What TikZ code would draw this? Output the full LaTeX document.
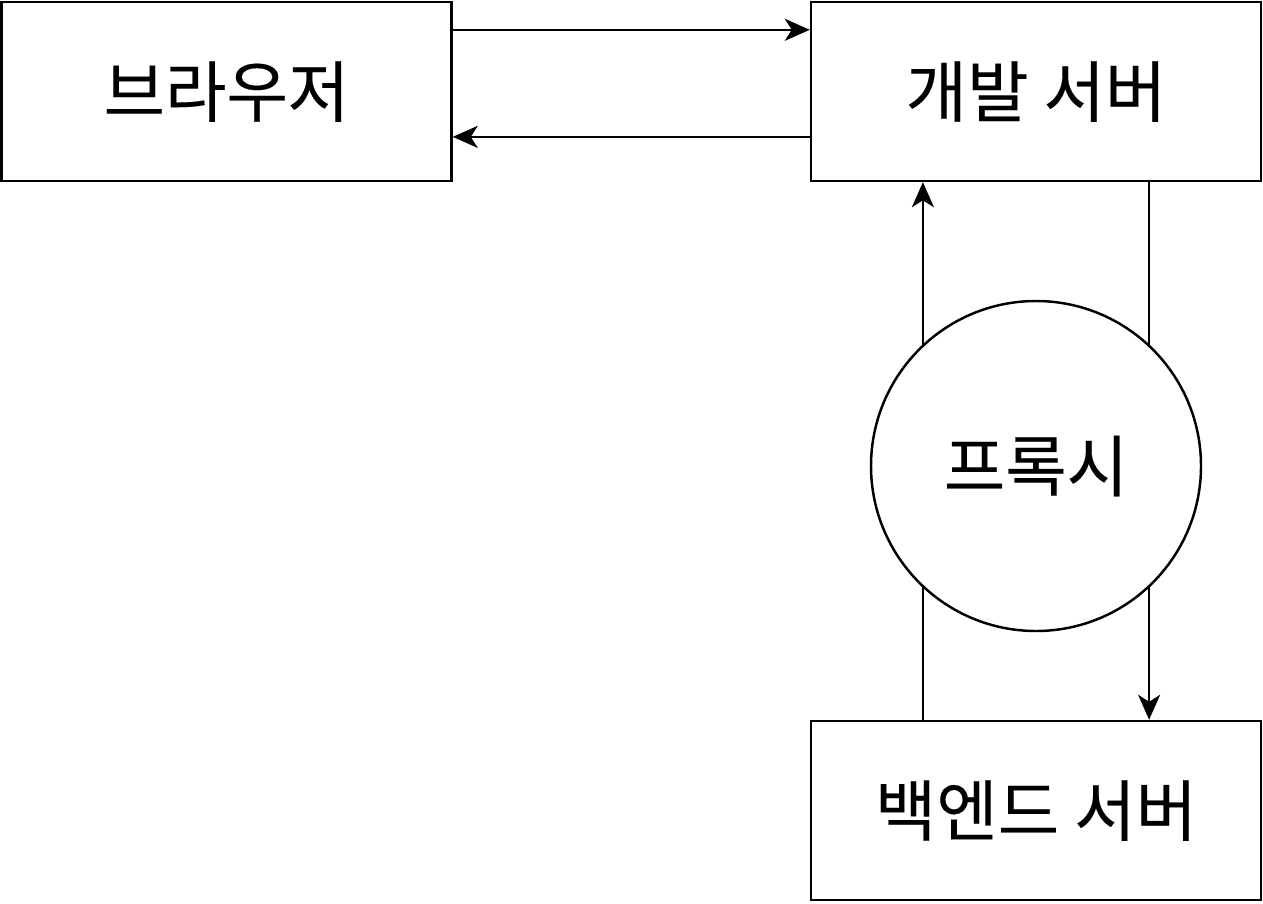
\documentclass[tikz,border=0pt]{standalone}
\usepackage{fontspec}
\newfontfamily\krfont[FakeBold=0.2]{Noto Sans CJK KR}
\usetikzlibrary{arrows.meta,calc,positioning}
\tikzset{
  box/.style={draw,line width=1.4pt,minimum width=9cm,minimum height=3.58cm,inner sep=0pt,fill=white},
  proxy/.style={draw,circle,line width=1.4pt,minimum size=6.6cm,inner sep=0pt,fill=white},
  lbl/.style={font=\krfont\fontsize{38}{46}\selectfont},
  flow/.style={line width=1.4pt,-{Stealth[length=5mm,width=4.4mm,inset=1.4mm]}},
}
\begin{document}
\begin{tikzpicture}
  \useasboundingbox (0,0) rectangle (25.26,-18.06);
  % the three boxes
  \node[box,lbl] (browser) at (4.53,-1.83) {브라우저};
  \node[box,lbl] (devserver) at (20.72,-1.83) {개발 서버};
  \node[box,lbl] (backend) at (20.72,-16.21) {백엔드 서버};
  % browser <-> dev server
  \draw[flow] ($(browser.north east)!0.16!(browser.south east)$)
    -- ($(devserver.north west)!0.16!(devserver.south west)$);
  \draw[flow] ($(devserver.north west)!0.75!(devserver.south west)$)
    -- ($(browser.north east)!0.75!(browser.south east)$);
  % dev server <-> backend, running behind the proxy
  \draw[flow] ($(backend.north west)!0.25!(backend.north east)$)
    -- ($(devserver.south west)!0.25!(devserver.south east)$);
  \draw[flow] ($(devserver.south west)!0.75!(devserver.south east)$)
    -- ($(backend.north west)!0.75!(backend.north east)$);
  % proxy on top of the two lines
  \node[proxy,lbl] (proxy) at (20.72,-9.32) {프록시};
\end{tikzpicture}
\end{document}
